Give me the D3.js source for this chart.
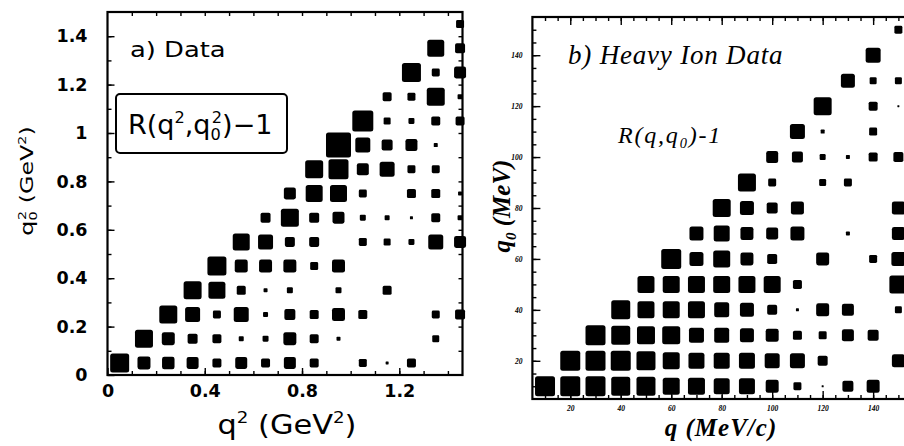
<!DOCTYPE html>
<html>
<head>
<meta charset="utf-8">
<script src="https://cdn.jsdelivr.net/npm/d3@7"></script>
<style>
  body { margin: 0; background: #fff; }
  svg { display: block; }
</style>
</head>
<body>
<svg id="chart" width="904" height="446"></svg>
<script>
// ---- a) Data: R(q², q0²) − 1 in 0.1 GeV² bins; each row starts on the diagonal ----
const q2Bins = [0.05, 0.15, 0.25, 0.35, 0.45, 0.55, 0.65, 0.75, 0.85, 0.95, 1.05, 1.15, 1.25, 1.35, 1.45];
const q2TickLabels = [0, 0.4, 0.8, 1.2];
const q02TickLabels = [0, 0.2, 0.4, 0.6, 0.8, 1, 1.2, 1.4];
const q2MinorTicks = [0.1, 0.2, 0.3, 0.4, 0.5, 0.6, 0.7, 0.8, 0.9, 1.0, 1.1, 1.2, 1.3, 1.4];
const rowsA = [
  [0.76, 0.52, 0.50, 0.48, 0.36, 0.48, 0.36, 0.48, 0.36, 0, 0.32, 0.12, 0.36, 0, 0],
  [0.72, 0.52, 0.40, 0.36, 0.20, 0.24, 0.52, 0.36, 0.16, 0, 0, 0, 0.28, 0],
  [0.72, 0.60, 0.32, 0.60, 0.20, 0.44, 0.36, 0.52, 0.36, 0, 0, 0.32, 0.40],
  [0.72, 0.68, 0.36, 0.16, 0.24, 0, 0.24, 0, 0.36, 0, 0, 0],
  [0.76, 0.52, 0.52, 0.52, 0.32, 0.52, 0, 0, 0, 0, 0],
  [0.68, 0.60, 0.40, 0.40, 0, 0.32, 0.28, 0.24, 0.60, 0.48],
  [0.40, 0.72, 0.40, 0.48, 0.24, 0.20, 0.12, 0.36, 0.20],
  [0.48, 0.68, 0.68, 0.32, 0, 0.36, 0.36, 0.16],
  [0.72, 0.80, 0.48, 0.60, 0.32, 0.32, 0],
  [1.00, 0.60, 0.44, 0.48, 0.16, 0],
  [0.84, 0.28, 0.24, 0.36, 0.36],
  [0.36, 0.32, 0.72, 0.20],
  [0.76, 0.32, 0.48],
  [0.68, 0.40],
  [0.32]
];

// ---- b) Heavy ion data: R(q, q0) − 1 in 10 MeV bins; each row starts on the diagonal ----
const qBins = [10, 20, 30, 40, 50, 60, 70, 80, 90, 100, 110, 120, 130, 140, 150];
const qTickLabels = [20, 40, 60, 80, 100, 120, 140];
const qMinorTicks = [10, 15, 20, 25, 30, 35, 40, 45, 50, 55, 60, 65, 70, 75, 80, 85, 90, 95, 100,
                     105, 110, 115, 120, 125, 130, 135, 140, 145, 150];
const rowsB = [
  [0.80, 0.80, 0.80, 0.76, 0.76, 0.68, 0.68, 0.64, 0.64, 0.52, 0.32, 0.08, 0.44, 0.52, 0],
  [0.80, 0.80, 0.80, 0.76, 0.68, 0.64, 0.64, 0.64, 0.60, 0.60, 0.40, 0, 0, 0.52],
  [0.80, 0.76, 0.72, 0.72, 0.60, 0.60, 0.56, 0.52, 0.36, 0.32, 0.48, 0.44, 0],
  [0.76, 0.68, 0.68, 0.68, 0.60, 0.56, 0.40, 0.12, 0.52, 0.48, 0, 0.28],
  [0.68, 0.68, 0.68, 0.68, 0.68, 0.68, 0.36, 0, 0, 0, 0.72],
  [0.80, 0.56, 0.68, 0.52, 0.40, 0, 0.52, 0, 0.32, 0.56],
  [0.56, 0.64, 0.52, 0.48, 0.56, 0, 0.16, 0, 0.52],
  [0.72, 0.56, 0.44, 0.52, 0, 0, 0, 0.52],
  [0.72, 0.32, 0, 0.28, 0.32, 0, 0],
  [0.48, 0.44, 0.24, 0.16, 0.36, 0.40],
  [0.60, 0.16, 0, 0.32, 0],
  [0.72, 0, 0.36, 0.08],
  [0.56, 0.28, 0.28],
  [0.60, 0],
  [0.32]
];

const svg = d3.select('#chart');
const side = d3.scaleLinear().domain([0, 1]).range([0, 25]);

function cells(bins, rows) {
  const out = [];
  rows.forEach((row, r) => row.forEach((v, k) => {
    if (v > 0) out.push({ x: bins[r + k], y: bins[r], v });
  }));
  return out;
}

function drawBoxes(g, data, x, y) {
  g.selectAll('rect').data(data).join('rect')
    .attr('x', d => x(d.x) - side(d.v) / 2)
    .attr('y', d => y(d.y) - side(d.v) / 2)
    .attr('width', d => side(d.v))
    .attr('height', d => side(d.v))
    .attr('rx', d => Math.min(2.5, side(d.v) * 0.18))
    .attr('fill', '#000');
}

function tickAxis(g, axis, values, size, fmt, pad) {
  g.call(axis.tickValues(values).tickSize(size).tickPadding(pad || 3).tickFormat(fmt || ''));
  g.select('.domain').remove();
  g.selectAll('.tick line').attr('stroke', '#000').attr('stroke-width', 1.4);
  return g;
}

// rich text helper: parts with optional superscript / subscript
function rich(t, parts, size) {
  let cur = 0;
  parts.forEach(p => {
    const off = p.sup ? -0.42 * size : p.sub ? 0.22 * size : 0;
    const ts = t.append('tspan').text(p.t).attr('dy', off - cur);
    if (p.sup || p.sub) ts.attr('font-size', size * 0.6);
    if (p.dx) ts.attr('dx', p.dx);
    cur = off;
  });
}

// ================= panel a =================
const xA = d3.scaleLinear().domain([0, 1.46]).range([107.5, 462.5]);
const yA = d3.scaleLinear().domain([0, 1.5]).range([375, 12]);
const gA = svg.append('g');

drawBoxes(gA.append('g'), cells(q2Bins, rowsA), xA, yA);

const fmtA = d => String(d);
tickAxis(gA.append('g').attr('transform', 'translate(0,375)'), d3.axisBottom(xA), q2MinorTicks, -4);
tickAxis(gA.append('g').attr('transform', 'translate(0,375)'), d3.axisBottom(xA), q2TickLabels, -7, fmtA, 10);
tickAxis(gA.append('g').attr('transform', 'translate(0,12)'), d3.axisTop(xA), q2MinorTicks, -4);
tickAxis(gA.append('g').attr('transform', 'translate(107.5,0)'), d3.axisLeft(yA), q2MinorTicks, -4);
tickAxis(gA.append('g').attr('transform', 'translate(107.5,0)'), d3.axisLeft(yA), q02TickLabels, -7, fmtA, 20);
tickAxis(gA.append('g').attr('transform', 'translate(462.5,0)'), d3.axisRight(yA), q2MinorTicks, -4);
gA.selectAll('.tick text')
  .attr('font-family', 'DejaVu Sans, sans-serif')
  .attr('font-weight', 'bold')
  .attr('font-size', 17.5)
  .attr('fill', '#000');

gA.append('rect')
  .attr('x', xA(0)).attr('y', yA(1.5))
  .attr('width', xA(1.46) - xA(0)).attr('height', yA(0) - yA(1.5))
  .attr('fill', 'none').attr('stroke', '#000').attr('stroke-width', 2.2);

const sansA = 'DejaVu Sans, sans-serif';
gA.append('text')
  .attr('transform', 'translate(130,57) scale(1.2,1)')
  .attr('font-family', sansA).attr('font-size', 21.5)
  .text('a) Data');

gA.append('rect')
  .attr('x', 116).attr('y', 94).attr('width', 171).attr('height', 59).attr('rx', 4)
  .attr('fill', '#fff').attr('stroke', '#000').attr('stroke-width', 2);
const boxT = gA.append('text').attr('x', 128).attr('y', 134)
  .attr('font-family', sansA).attr('font-size', 27);
rich(boxT, [{ t: 'R(q' }, { t: '2', sup: true }, { t: ',q' }, { t: '0', sub: true },
            { t: '2', sup: true, dx: -9 }, { t: ')−1' }], 27);

const xTitleA = gA.append('text')
  .attr('transform', 'translate(287,434) scale(1.17,1)')
  .attr('text-anchor', 'middle')
  .attr('font-family', sansA).attr('font-size', 26);
rich(xTitleA, [{ t: 'q' }, { t: '2', sup: true }, { t: ' (GeV' }, { t: '2', sup: true }, { t: ')' }], 26);

const yTitleA = gA.append('text')
  .attr('transform', 'translate(33,181) rotate(-90) scale(1.4,1)')
  .attr('text-anchor', 'middle')
  .attr('font-family', sansA).attr('font-size', 17);
rich(yTitleA, [{ t: 'q' }, { t: '0', sub: true }, { t: '2', sup: true, dx: -6 },
               { t: ' (GeV' }, { t: '2', sup: true }, { t: ')' }], 17);

// ================= panel b =================
const xB = d3.scaleLinear().domain([5, 155]).range([532.4, 911]);
const yB = d3.scaleLinear().domain([5, 155]).range([399, 17]);
const gB = svg.append('g');

drawBoxes(gB.append('g'), cells(qBins, rowsB), xB, yB);

const serif = 'Liberation Serif, Times New Roman, serif';
tickAxis(gB.append('g').attr('transform', 'translate(0,399)'), d3.axisBottom(xB), qMinorTicks, -4);
tickAxis(gB.append('g').attr('transform', 'translate(0,399)'), d3.axisBottom(xB), qTickLabels, -8, d => d, 6.5);
tickAxis(gB.append('g').attr('transform', 'translate(0,17)'), d3.axisTop(xB), qMinorTicks, -4);
tickAxis(gB.append('g').attr('transform', 'translate(0,17)'), d3.axisTop(xB), qTickLabels, -8);
tickAxis(gB.append('g').attr('transform', 'translate(532.4,0)'), d3.axisLeft(yB), qMinorTicks, -4);
tickAxis(gB.append('g').attr('transform', 'translate(532.4,0)'), d3.axisLeft(yB), qTickLabels, -8, d => d, 10);
gB.selectAll('.tick text')
  .attr('font-family', serif)
  .attr('font-style', 'italic').attr('font-weight', 'bold')
  .attr('font-size', 7.5)
  .attr('fill', '#000');

gB.append('rect')
  .attr('x', xB(5)).attr('y', yB(155))
  .attr('width', xB(155) - xB(5)).attr('height', yB(5) - yB(155))
  .attr('fill', 'none').attr('stroke', '#000').attr('stroke-width', 2.2);

gB.append('text')
  .attr('x', 568).attr('y', 64)
  .attr('font-family', serif).attr('font-style', 'italic')
  .attr('font-size', 27).attr('letter-spacing', 0.8)
  .text('b) Heavy Ion Data');

const rB = gB.append('text').attr('x', 618).attr('y', 143)
  .attr('font-family', serif).attr('font-style', 'italic')
  .attr('font-size', 24).attr('letter-spacing', 1.8);
rich(rB, [{ t: 'R(q,q' }, { t: '0', sub: true }, { t: ')-1' }], 24);

gB.append('text')
  .attr('x', 721).attr('y', 436)
  .attr('text-anchor', 'middle')
  .attr('font-family', serif).attr('font-style', 'italic').attr('font-weight', 'bold')
  .attr('font-size', 25).attr('letter-spacing', 1)
  .text('q (MeV/c)');

const yTitleB = gB.append('text')
  .attr('transform', 'translate(510,206) rotate(-90)')
  .attr('text-anchor', 'middle')
  .attr('font-family', serif).attr('font-style', 'italic').attr('font-weight', 'bold')
  .attr('font-size', 25);
rich(yTitleB, [{ t: 'q' }, { t: '0', sub: true }, { t: ' (MeV)' }], 25);
</script>
</body>
</html>
